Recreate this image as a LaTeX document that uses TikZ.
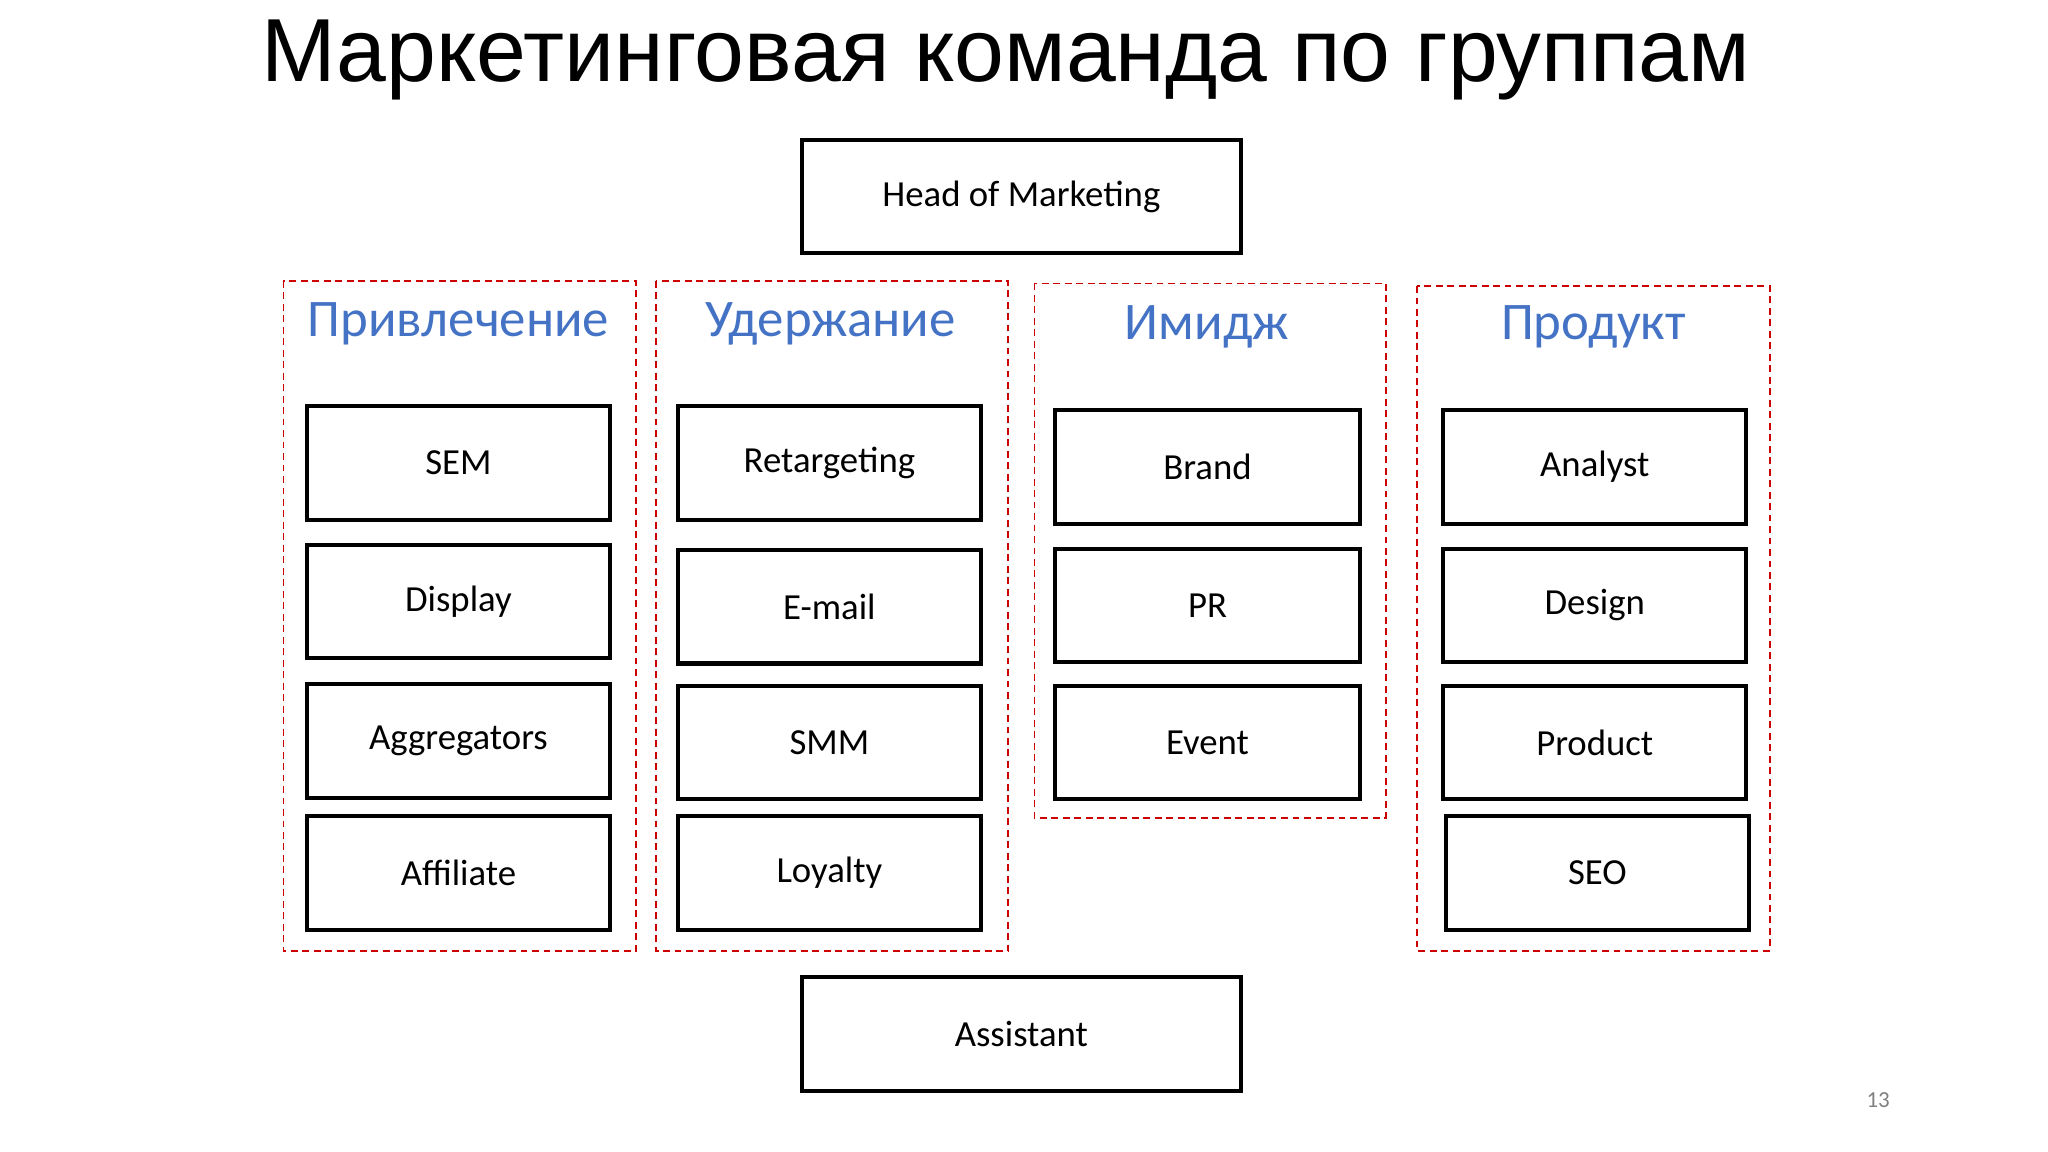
\documentclass[tikz,border=0pt]{standalone}
\usepackage{fontspec}
\setmainfont{Carlito}
\newfontfamily\titlefont{Liberation Sans}
\begin{document}
\begin{tikzpicture}[x=0.01cm,y=-0.01cm,
  role/.style={draw=black,line width=0.9pt,inner sep=0pt,font=\fontsize{8}{9}\selectfont},
  grp/.style={draw=red!80!black,dashed,line width=0.4pt,dash pattern=on 1.5pt off 1pt},
  hdr/.style={text=blue!45!cyan!60!black,font=\fontsize{11.5}{13}\selectfont}]
\definecolor{hdrblue}{RGB}{68,114,196}
\useasboundingbox (0,0) rectangle (1568,882);
\newcommand{\rbox}[6]{\node[role,minimum width={(#3-#2)*0.01cm},minimum height={(#5-#4)*0.01cm}] (#1) at ({(#2+#3)/2},{(#4+#5)/2}) {#6};}
\node[font=\titlefont\fontsize{19.5}{22}\selectfont] (title) at (770,46) {Маркетинговая команда по группам};
\rbox{head}{614}{950}{107}{194}{Head of Marketing}
\rbox{asst}{614}{950}{748}{835}{Assistant}
\draw[grp] (217,215) rectangle (487,728);
\draw[grp] (502,215) rectangle (772,728);
\draw[grp] (792,217) rectangle (1061,626);
\draw[grp] (1085,219) rectangle (1355,728);
\node[hdr,text=hdrblue] (h1) at (351,248) {Привлечение};
\node[hdr,text=hdrblue] (h2) at (636,248) {Удержание};
\node[hdr,text=hdrblue] (h3) at (924,250) {Имидж};
\node[hdr,text=hdrblue] (h4) at (1220,250) {Продукт};
\rbox{sem}{235}{467}{311}{398}{SEM}
\rbox{disp}{235}{467}{417}{504}{Display}
\rbox{agg}{235}{467}{524}{611}{Aggregators}
\rbox{aff}{235}{467}{625}{712}{Affiliate}
\rbox{ret}{519}{751}{311}{398}{Retargeting}
\rbox{mail}{519}{751}{421}{508}{E-mail}
\rbox{smm}{519}{751}{525}{612}{SMM}
\rbox{loy}{519}{751}{625}{712}{Loyalty}
\rbox{brand}{808}{1041}{314}{401}{Brand}
\rbox{pr}{808}{1041}{420}{507}{PR}
\rbox{event}{808}{1041}{525}{612}{Event}
\rbox{an}{1105}{1337}{314}{401}{Analyst}
\rbox{des}{1105}{1337}{420}{507}{Design}
\rbox{prod}{1105}{1337}{525}{612}{Product}
\rbox{seo}{1107}{1339}{625}{712}{SEO}
\node[text=gray,font=\fontsize{5}{6}\selectfont] (num) at (1438,842) {13};
\end{tikzpicture}
\end{document}
